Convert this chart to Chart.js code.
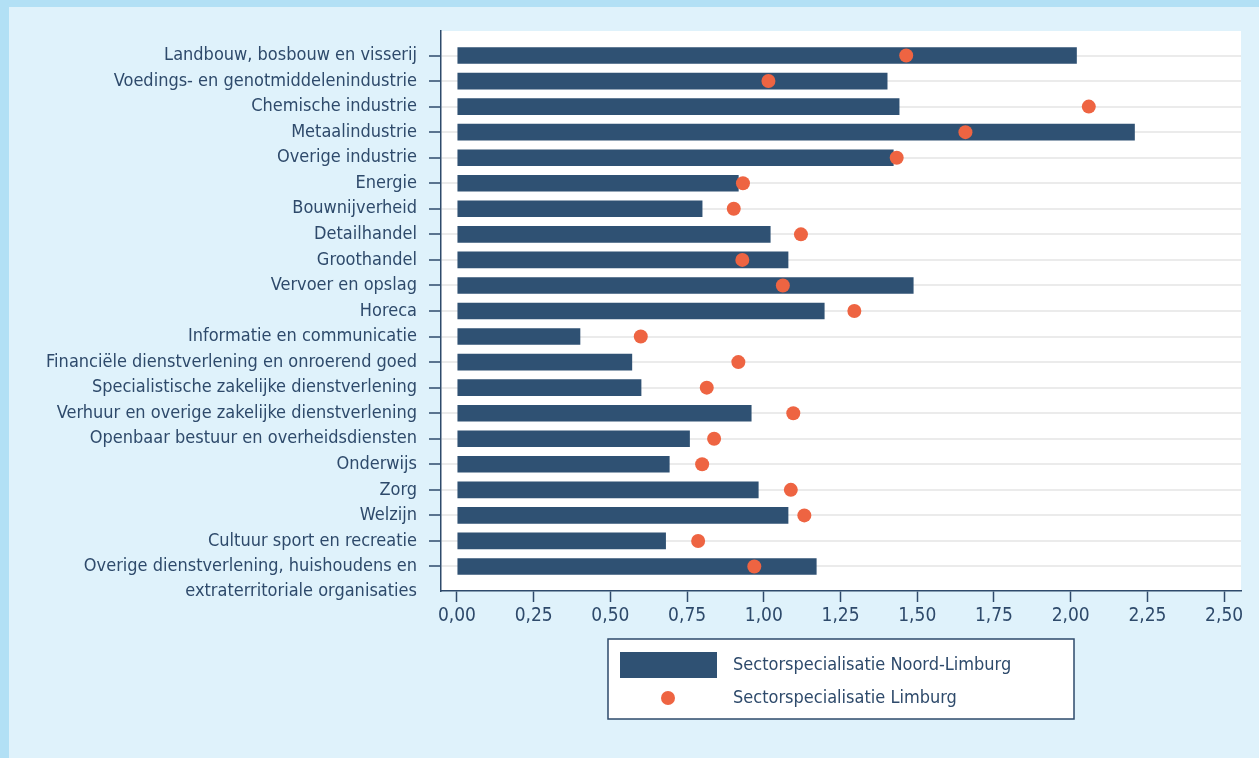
<!DOCTYPE html>
<html>
<head>
<meta charset="utf-8">
<title>Sectorspecialisatie</title>
<script src="https://cdn.jsdelivr.net/npm/chart.js@4/dist/chart.umd.min.js"></script>
<style>
  html, body { margin: 0; padding: 0; background: #b2e0f5; }
  #frame { position: absolute; left: 9px; top: 7px; width: 1250px; height: 751px; background: #dff2fb; }
</style>
</head>
<body>
<div id="frame"><canvas id="sectorChart"></canvas></div>
<script>
const sectors = [
    'Landbouw, bosbouw en visserij',
    'Voedings- en genotmiddelenindustrie',
    'Chemische industrie',
    'Metaalindustrie',
    'Overige industrie',
    'Energie',
    'Bouwnijverheid',
    'Detailhandel',
    'Groothandel',
    'Vervoer en opslag',
    'Horeca',
    'Informatie en communicatie',
    'Financiële dienstverlening en onroerend goed',
    'Specialistische zakelijke dienstverlening',
    'Verhuur en overige zakelijke dienstverlening',
    'Openbaar bestuur en overheidsdiensten',
    'Onderwijs',
    'Zorg',
    'Welzijn',
    'Cultuur sport en recreatie',
    ['Overige dienstverlening, huishoudens en', 'extraterritoriale organisaties']
];
const noordLimburg = [2.02, 1.403, 1.442, 2.209, 1.423, 0.918, 0.80, 1.022, 1.08, 1.488, 1.198,
    0.402, 0.571, 0.601, 0.96, 0.759, 0.693, 0.983, 1.08, 0.681, 1.172];
const limburg = [1.464, 1.015, 2.059, 1.657, 1.433, 0.932, 0.902, 1.121, 0.93, 1.062, 1.295,
    0.599, 0.917, 0.814, 1.096, 0.838, 0.799, 1.088, 1.132, 0.786, 0.969];
const xTicks = [0, 0.25, 0.5, 0.75, 1, 1.25, 1.5, 1.75, 2, 2.25, 2.5];

const navy = '#2f5173';
const textColor = '#2e4a6b';
const fontFamily = '"DejaVu Sans Condensed", "DejaVu Sans", sans-serif';

// white plot background
const plotBackground = {
    id: 'plotBackground',
    beforeDraw(chart) {
        const { ctx, chartArea } = chart;
        ctx.save();
        ctx.fillStyle = '#ffffff';
        ctx.fillRect(chartArea.left, chartArea.top, chartArea.right - chartArea.left, chartArea.bottom - chartArea.top);
        ctx.restore();
    }
};

// boxed legend with the two series stacked
const legendBox = {
    id: 'legendBox',
    afterDraw(chart) {
        const { ctx, chartArea } = chart;
        const sets = chart.data.datasets;
        const w = 466, h = 80;
        const left = (chartArea.left + chartArea.right) / 2 - w / 2;
        const top = chartArea.bottom + 48;
        ctx.save();
        ctx.fillStyle = '#ffffff';
        ctx.fillRect(left, top, w, h);
        ctx.strokeStyle = textColor;
        ctx.lineWidth = 1.5;
        ctx.strokeRect(left, top, w, h);

        ctx.fillStyle = sets[0].backgroundColor;
        ctx.fillRect(left + 12, top + 13, 97, 26);

        ctx.fillStyle = sets[1].pointBackgroundColor;
        ctx.beginPath();
        ctx.arc(left + 60, top + 59, 7, 0, Math.PI * 2);
        ctx.fill();

        ctx.fillStyle = textColor;
        ctx.font = '18px ' + fontFamily;
        ctx.textBaseline = 'middle';
        ctx.fillText(sets[0].label, left + 125, top + 26);
        ctx.fillText(sets[1].label, left + 125, top + 59);
        ctx.restore();
    }
};

const ctx = document.getElementById('sectorChart').getContext('2d');

new Chart(ctx, {
    type: 'bar',
    data: {
        datasets: [
            {
                label: 'Sectorspecialisatie Noord-Limburg',
                data: noordLimburg.map((v, i) => ({ x: v, y: i })),
                backgroundColor: navy,
                barPercentage: 0.65,
                categoryPercentage: 1,
                order: 2
            },
            {
                type: 'line',
                label: 'Sectorspecialisatie Limburg',
                data: limburg.map((v, i) => ({ x: v, y: i })),
                showLine: false,
                pointRadius: 7,
                pointBackgroundColor: '#ee6442',
                pointBorderWidth: 0,
                borderColor: '#ee6442',
                order: 1
            }
        ]
    },
    options: {
        indexAxis: 'y',
        responsive: true,
        maintainAspectRatio: false,
        animation: false,
        layout: { padding: { top: 24, right: 18, bottom: 127, left: 0 } },
        plugins: {
            legend: { display: false },
            tooltip: { enabled: false }
        },
        scales: {
            x: {
                type: 'linear',
                position: 'bottom',
                min: -0.052,
                max: 2.555,
                afterBuildTicks: (scale) => { scale.ticks = xTicks.map(v => ({ value: v })); },
                afterFit: (scale) => {
                    scale.height = 40;
                    scale.paddingLeft = 0;
                    scale.paddingRight = 0;
                },
                grid: {
                    drawOnChartArea: false,
                    drawTicks: true,
                    tickLength: 11,
                    tickColor: textColor,
                    tickWidth: 1.5
                },
                border: { color: textColor, width: 1.5 },
                ticks: {
                    padding: 3,
                    maxRotation: 0,
                    color: textColor,
                    font: { family: fontFamily, size: 19 },
                    callback: (value) => value.toFixed(2).replace('.', ',')
                }
            },
            y: {
                type: 'linear',
                reverse: true,
                offset: false,
                min: -0.96,
                max: 20.96,
                afterBuildTicks: (scale) => { scale.ticks = sectors.map((s, i) => ({ value: i })); },
                afterFit: (scale) => {
                    scale.width = 432;
                    scale.paddingTop = 0;
                    scale.paddingBottom = 0;
                },
                grid: {
                    offset: false,
                    color: '#ebebeb',
                    lineWidth: 2,
                    tickLength: 12,
                    tickColor: textColor,
                    tickWidth: 1.5
                },
                border: { color: textColor, width: 1.5 },
                ticks: {
                    padding: 12,
                    autoSkip: false,
                    color: textColor,
                    font: { family: fontFamily, size: 18, lineHeight: 1.39 },
                    callback: (value) => {
                        const lbl = sectors[value];
                        return Array.isArray(lbl) ? [''].concat(lbl) : lbl;
                    }
                }
            }
        }
    },
    plugins: [plotBackground, legendBox]
});
</script>
</body>
</html>
